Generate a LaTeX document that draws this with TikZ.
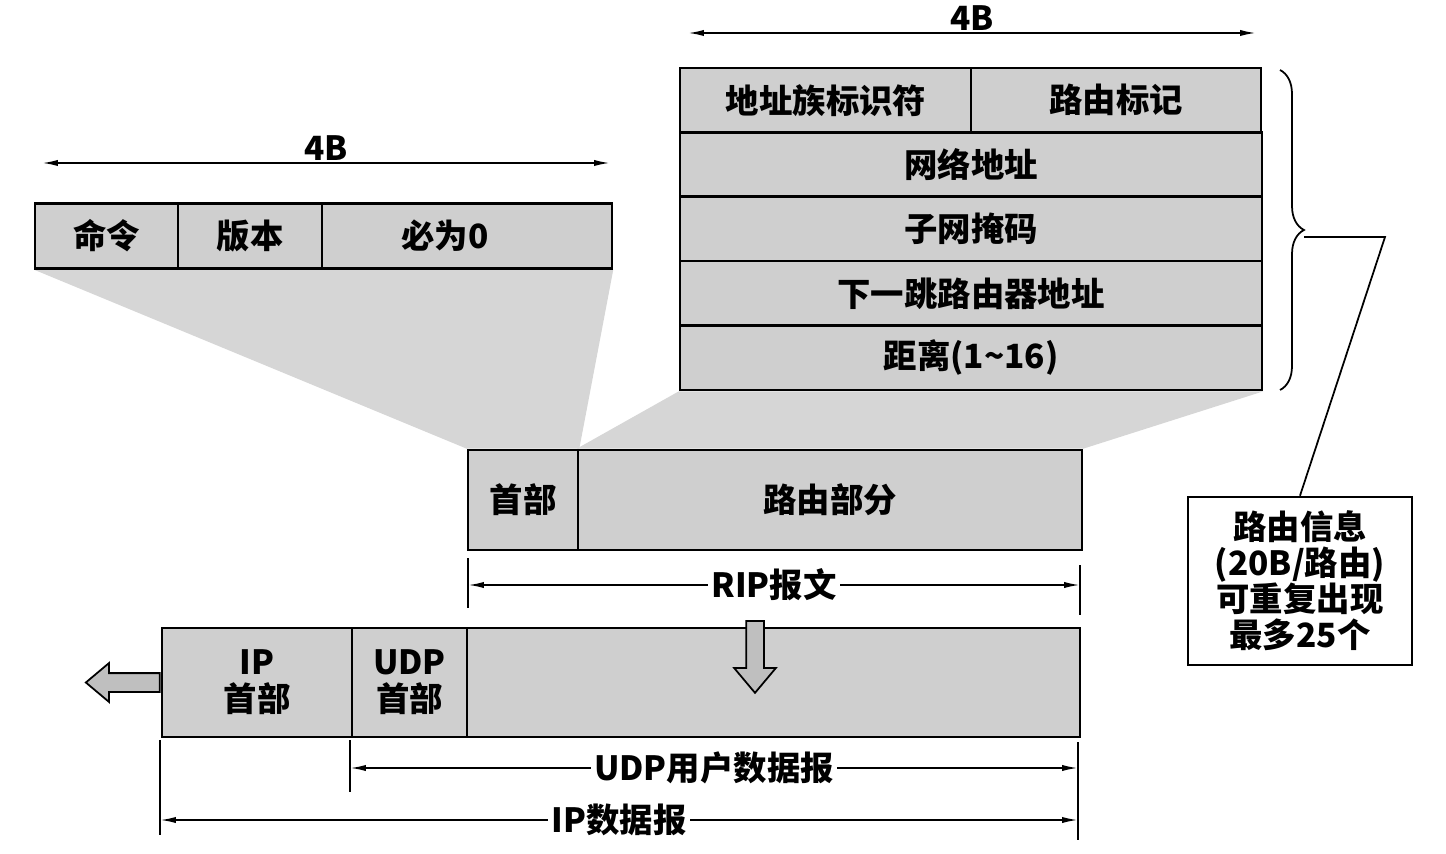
\documentclass[tikz,border=0pt]{standalone}
\usepackage{fontspec}
\setmainfont{Noto Sans CJK SC}
\usepackage{tikz}
\usetikzlibrary{arrows.meta,shapes.arrows,decorations.pathreplacing,backgrounds}
\def\rowsep{64.4}

\begin{document}
\begin{tikzpicture}[x=0.02cm, y=-0.02cm, line width=1.5pt, font=\fontsize{19}{21}\selectfont\bfseries]
  \tikzstyle{field}=[rectangle, draw, fill=gray!38, inner sep=0pt, minimum height=1.29cm]
  \tikzstyle{shade}=[fill=gray!32, draw=none]
  \tikzstyle{tick}=[line width=1pt]
  \tikzstyle{dimline}=[line width=1pt, {Latex[length=9pt,width=3.5pt]}-{Latex[length=9pt,width=3.5pt]}]
  \tikzstyle{fatarrow}=[single arrow, draw, fill=gray!50, line width=1pt, minimum width=0pt, single arrow tip angle=80]

  \useasboundingbox (0,0) rectangle (1446,854);

  % RIP header fields
  \foreach \name / \x / \w / \txt in {cmd/106.5/2.86/命令, ver/250/2.88/版本, zero/467/5.8/\hspace*{-0.88cm}必为0}
    \node[field, minimum width=\w cm] (H-\name) at (\x,236) {\txt};

  % route entry
  \node[field, minimum width=5.84cm] (E-fam) at (826,100.2) {地址族标识符};
  \node[field, minimum width=5.8cm] (E-tag) at (1116,100.2) {路由标记};
  \foreach \name / \txt [count=\i] in {net/网络地址, mask/子网掩码, hop/下一跳路由器地址, dist/{距离(1\textasciitilde 16)}}
    \node[field, minimum width=11.64cm] (E-\name) at (971,100.2+\rowsep*\i) {\txt};

  % RIP message
  \node[field, minimum width=2.2cm, minimum height=2cm] (M-hdr) at (523,500) {首部};
  \node[field, minimum width=10.08cm, minimum height=2cm] (M-route) at (830,500) {路由部分};

  % IP datagram
  \node[field, minimum width=3.8cm, minimum height=2.18cm, align=center] (D-ip) at (257,682.5) {IP\\首部};
  \node[field, minimum width=2.3cm, minimum height=2.18cm, align=center] (D-udp) at (409.5,682.5) {UDP\\首部};
  \node[field, minimum width=12.26cm, minimum height=2.18cm] (D-data) at (773.5,682.5) {};

  \begin{scope}[on background layer]
    \fill[shade] (H-cmd.south west) -- (H-zero.south east) -- (M-hdr.north east) -- (M-hdr.north west) -- cycle;
    \fill[shade] (E-dist.south west) -- (E-dist.south east) -- (M-route.north east) -- (M-route.north west) -- cycle;
  \end{scope}

  \node[draw, fill=white, minimum width=4.48cm, minimum height=3.36cm, align=center,
        font=\fontsize{19}{20.5}\selectfont\bfseries] (info) at (1300,581)
    {路由信息\\(20B/路由)\\可重复出现\\最多25个};

  \node[fatarrow, inner sep=0.17cm, single arrow head extend=0.2cm, minimum height=1.48cm,
        shape border rotate=180, anchor=tail] (out) at (D-ip.west) {};
  \coordinate (down-top) at (755,620);
  \node[fatarrow, inner sep=0.16cm, single arrow head extend=0.24cm, minimum height=1.44cm,
        shape border rotate=270, anchor=tail] (down) at (down-top) {};

  % width marks
  \coordinate (wa-l) at (42,163);   \coordinate (wa-r) at (610,163);
  \coordinate (wb-l) at (688,33);   \coordinate (wb-r) at (1256,33);
  \draw[dimline] (wa-l) -- (wa-r) node[midway, above=1pt, inner sep=0pt] {4B};
  \draw[dimline] (wb-l) -- (wb-r) node[midway, above=1pt, inner sep=0pt] {4B};

  \foreach \name / \x / \ya / \yb in {rl/468/558/608, rr/1080/565/615, ul/350/740/792, il/160/740/835, dr/1078/742/840}
  {
    \coordinate (T-\name-a) at (\x,\ya);
    \coordinate (T-\name-b) at (\x,\yb);
    \draw[tick] (T-\name-a) -- (T-\name-b);
  }
  \coordinate (rip-l) at (468,585);  \coordinate (rip-r) at (1080,585);
  \coordinate (udp-l) at (350,768);  \coordinate (udp-r) at (1078,768);
  \coordinate (ipd-l) at (160,820);  \coordinate (ipd-r) at (1078,820);
  \draw[dimline] (rip-l) -- (rip-r) node[midway, fill=white, inner sep=2pt] {RIP报文};
  \draw[dimline] (udp-l) -- (udp-r) node[midway, fill=white, inner sep=2pt] {UDP用户数据报};
  \draw[dimline] (ipd-l) -- (ipd-r) node[midway, fill=white, inner sep=2pt] {IP数据报};

  % repeat brace
  \coordinate (br-top) at (1280,70);
  \coordinate (br-bot) at (1280,390);
  \coordinate (br-tip) at (1304,230);
  \coordinate (bend) at (1385,237);
  \draw[line width=1pt, decorate, decoration={brace, amplitude=0.48cm}] (br-top) -- (br-bot);
  \draw[line width=1pt] (br-tip |- bend) -- (bend) -- (info.north);
\end{tikzpicture}
\end{document}
